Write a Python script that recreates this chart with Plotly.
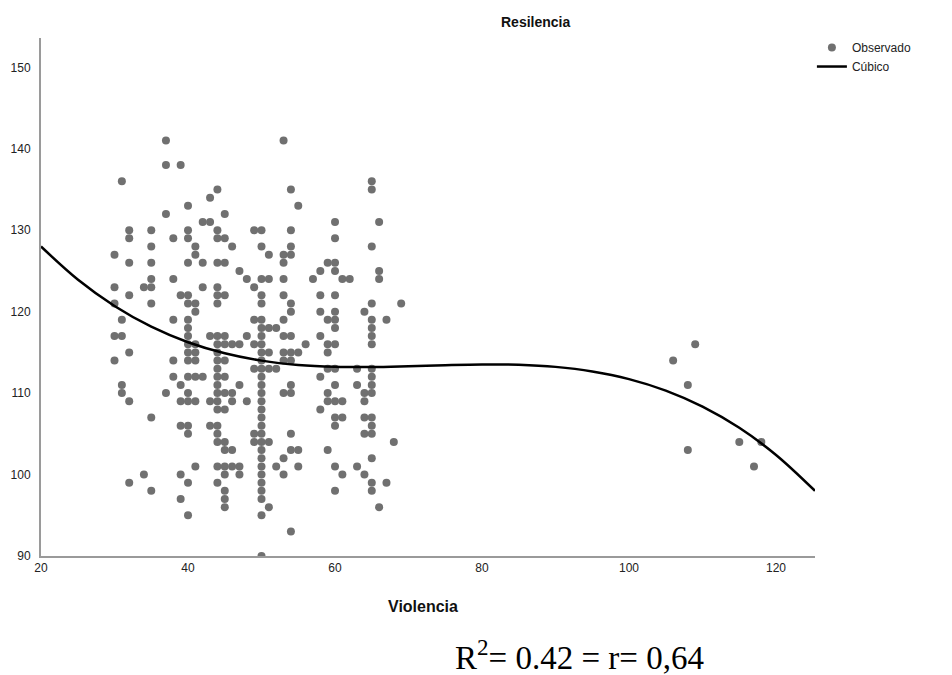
import plotly.graph_objects as go

obs_x = [
    30, 30, 30, 30, 30,
    31, 31, 31, 31, 31,
    32, 32, 32, 32, 32, 32, 32,
    34, 34,
    35, 35, 35, 35, 35, 35, 35, 35,
    37, 37, 37, 37,
    38, 38, 38, 38, 38,
    39, 39, 39, 39, 39, 39, 39,
    40, 40, 40, 40, 40, 40, 40, 40, 40, 40, 40, 40, 40, 40, 40, 40, 40, 40, 40,
    41, 41, 41, 41, 41, 41, 41, 41, 41, 41,
    42, 42, 42, 42,
    43, 43, 43, 43, 43,
    44, 44, 44, 44, 44, 44, 44, 44, 44, 44, 44, 44, 44, 44, 44, 44, 44, 44, 44, 44, 44, 44,
    45, 45, 45, 45, 45, 45, 45, 45, 45, 45, 45, 45, 45, 45, 45, 45, 45,
    46, 46, 46, 46, 46, 46,
    47, 47, 47, 47, 47,
    48, 48, 48,
    49, 49, 49, 49, 49, 49, 49,
    50, 50, 50, 50, 50, 50, 50, 50, 50, 50, 50, 50, 50, 50, 50, 50, 50, 50, 50, 50,
    50, 50, 50, 50, 50, 50, 50, 50, 50, 50,
    51, 51, 51, 51, 51, 51, 51,
    52, 52, 52,
    53, 53, 53, 53, 53, 53, 53, 53, 53, 53, 53, 53,
    54, 54, 54, 54, 54, 54, 54, 54, 54, 54, 54, 54, 54, 54,
    55, 55, 55, 55,
    56,
    57,
    58, 58, 58, 58, 58, 58,
    59, 59, 59, 59, 59, 59, 59, 59,
    60, 60, 60, 60, 60, 60, 60, 60, 60, 60, 60, 60, 60, 60, 60, 60,
    61, 61, 61, 61,
    62,
    63, 63, 63,
    64, 64, 64, 64, 64, 64,
    65, 65, 65, 65, 65, 65, 65, 65, 65, 65, 65, 65, 65, 65, 65, 65, 65, 65,
    66, 66, 66, 66,
    67, 67,
    68,
    69,
    106, 108, 108, 109, 115, 117, 118,
]
obs_y = [
    127, 123, 121, 117, 114,
    136, 119, 117, 111, 110,
    130, 129, 126, 122, 115, 109, 99,
    123, 100,
    130, 128, 126, 124, 123, 121, 107, 98,
    141, 138, 132, 110,
    129, 124, 119, 114, 112,
    138, 122, 111, 109, 106, 100, 97,
    133, 130, 129, 126, 122, 121, 119, 118, 117, 116, 115, 114, 112, 110, 109, 106, 105, 99, 95,
    128, 127, 121, 120, 116, 115, 114, 112, 109, 101,
    131, 126, 123, 112,
    134, 131, 117, 109, 106,
    135, 130, 129, 126, 123, 122, 121, 117, 116, 115, 114, 113, 112, 111, 110, 109, 108, 106, 105, 104, 101, 99,
    132, 129, 126, 122, 117, 116, 114, 112, 110, 108, 104, 103, 101, 100, 98, 97, 96,
    128, 116, 110, 109, 103, 101,
    125, 116, 111, 101, 100,
    124, 117, 109,
    130, 123, 119, 116, 113, 105, 104,
    130, 128, 124, 122, 121, 119, 118, 117, 116, 115, 114, 113, 112, 111, 110, 109, 108, 107, 106, 105,
    104, 103, 102, 101, 100, 99, 98, 97, 95, 90,
    127, 124, 118, 115, 113, 104, 96,
    118, 113, 101,
    141, 127, 126, 124, 122, 119, 117, 115, 114, 110, 102, 100,
    135, 130, 128, 127, 121, 120, 117, 115, 114, 111, 110, 105, 103, 93,
    133, 115, 103, 101,
    116,
    124,
    125, 122, 120, 117, 112, 108,
    126, 119, 116, 115, 113, 110, 109, 103,
    131, 129, 126, 125, 122, 120, 119, 118, 116, 113, 111, 109, 107, 106, 101, 98,
    124, 109, 107, 100,
    124,
    113, 111, 101,
    120, 110, 109, 107, 105, 100,
    136, 135, 128, 121, 119, 118, 117, 116, 113, 112, 111, 110, 107, 106, 105, 102, 99, 98,
    131, 125, 124, 96,
    119, 99,
    104,
    121,
    114, 111, 103, 116, 104, 101, 104,
]
assert len(obs_x) == len(obs_y), (len(obs_x), len(obs_y))

# Cubic fit curve
curve_x = [20, 25, 30, 35, 40, 45, 50, 55, 60, 65, 70, 75, 80, 85, 90, 95, 100, 105, 110, 115, 120, 125.3]
curve_y = [128.0, 123.95, 120.7, 118.16, 116.25, 114.89, 113.99, 113.46, 113.23, 113.2, 113.3, 113.43,
           113.52, 113.48, 113.22, 112.66, 111.72, 110.31, 108.34, 105.74, 102.41, 98.0]

x_ticks = [20, 40, 60, 80, 100, 120]
y_ticks = [90, 100, 110, 120, 130, 140, 150]

title_text = "Resilencia"
x_title = "Violencia"
stat_text = "R<sup>2</sup>= 0.42 = r= 0,64"

FONT = "Liberation Sans, Arial, sans-serif"

fig = go.Figure()
fig.add_trace(go.Scatter(
    x=obs_x, y=obs_y, mode="markers", name="Observado",
    marker=dict(size=8, color="#707070", line=dict(width=0)),
))
fig.add_trace(go.Scatter(
    x=curve_x, y=curve_y, mode="lines", name="Cúbico",
    line=dict(color="black", width=2.5, shape="spline", smoothing=1.0),
))

# page body has an 8px margin, so the figure is sized to fill the rest of the window
fig.update_layout(
    width=944, height=667,
    margin=dict(l=33, r=137, t=30, b=118.5, autoexpand=False),
    paper_bgcolor="white", plot_bgcolor="white",
    font=dict(family=FONT, size=12, color="#222222"),
    showlegend=True,
    legend=dict(
        x=0.996, xanchor="left", y=1.0096, yanchor="top",
        font=dict(family=FONT, size=12, color="#222222"),
        bgcolor="rgba(0,0,0,0)", tracegroupgap=0, itemwidth=30,
    ),
    xaxis=dict(
        range=[20, 125.3], tickmode="array", tickvals=x_ticks,
        ticktext=[str(v) for v in x_ticks],
        showgrid=False, zeroline=False, showline=True,
        linecolor="#9a9a9a", linewidth=2, ticks="", automargin=False,
        tickfont=dict(family=FONT, size=12, color="#222222"),
    ),
    yaxis=dict(
        range=[90, 153.6], tickmode="array", tickvals=y_ticks,
        ticktext=[str(v) for v in y_ticks],
        showgrid=False, zeroline=False, showline=True,
        linecolor="#9a9a9a", linewidth=2, ticks="", automargin=False,
        ticklabelstandoff=6,
        tickfont=dict(family=FONT, size=12, color="#222222"),
    ),
    annotations=[
        dict(text="<b>" + title_text + "</b>", xref="paper", yref="paper",
             x=0.6395, y=1.031, xanchor="center", yanchor="middle", showarrow=False,
             font=dict(family=FONT, size=14, color="#111111")),
        dict(text="<b>" + x_title + "</b>", xref="paper", yref="paper",
             x=0.4935, y=-0.0974, xanchor="center", yanchor="middle", showarrow=False,
             font=dict(family=FONT, size=16, color="#111111")),
        dict(text=stat_text, xref="paper", yref="paper",
             x=0.696, y=-0.192, xanchor="center", yanchor="middle", showarrow=False,
             font=dict(family="Liberation Serif, Times New Roman, serif", size=33, color="black")),
    ],
)

fig.write_html("out.html")
